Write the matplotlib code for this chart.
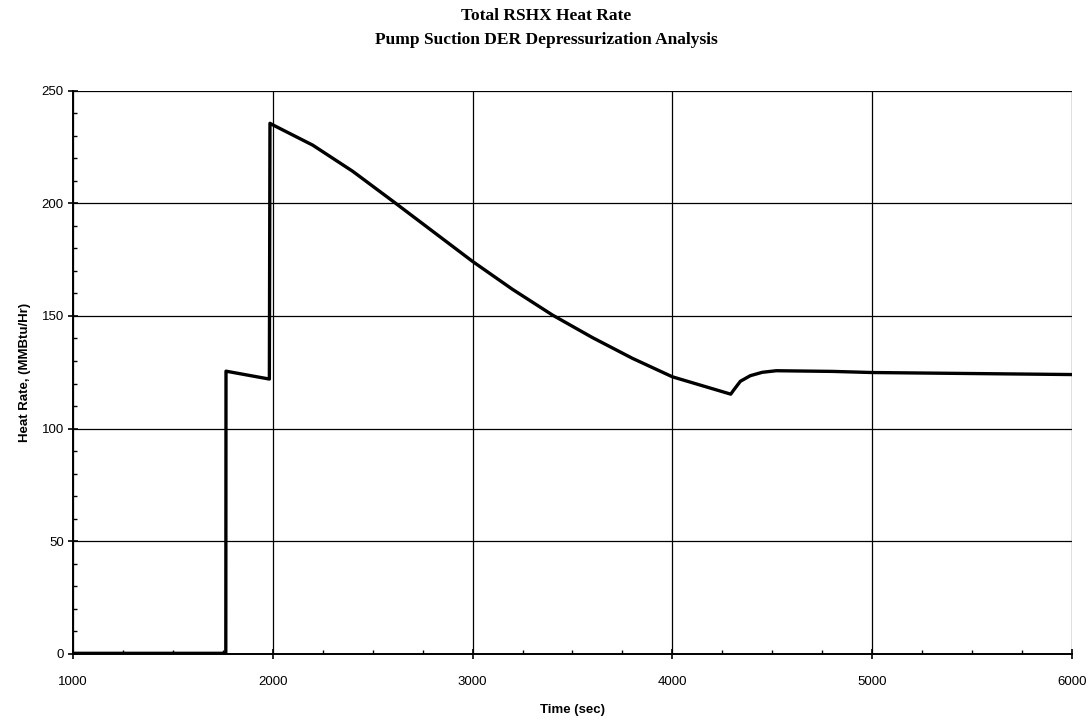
import matplotlib
matplotlib.use("Agg")
from matplotlib import pyplot as plt
from matplotlib.ticker import MultipleLocator

# RSHX heat rate vs time
time_sec = [1000, 1765, 1766, 1983, 1986, 2000, 2200, 2400, 2600, 2800,
            3000, 3200, 3400, 3600, 3800, 4000, 4292, 4310, 4340, 4390,
            4450, 4520, 4800, 5000, 6000]
heat_rate = [0.3, 0.3, 125.5, 122.0, 235.5, 234.8, 225.8, 214.2, 201.0, 187.6,
             174.2, 161.8, 150.4, 140.4, 131.2, 123.0, 115.3, 117.5, 121.0, 123.5,
             125.0, 125.7, 125.4, 124.9, 124.0]

title_lines = ["Total RSHX Heat Rate", "Pump Suction DER Depressurization Analysis"]
x_ticks = [1000, 2000, 3000, 4000, 5000, 6000]
y_ticks = [0, 50, 100, 150, 200, 250]

plt.rcParams['font.family'] = ['Liberation Sans', 'DejaVu Sans']

fig = plt.figure(figsize=(10.92, 7.22), dpi=100)
ax = fig.add_axes([0.0668, 0.0942, 0.9149, 0.7803])

ax.plot(time_sec, heat_rate, color='black', lw=2.4, solid_joinstyle='round')

ax.set_xlim(1000, 6000)
ax.set_ylim(0, 250)
ax.set_xticks(x_ticks)
ax.set_yticks(y_ticks)
ax.xaxis.set_minor_locator(MultipleLocator(250))
ax.yaxis.set_minor_locator(MultipleLocator(10))
ax.grid(True, which='major', color='black', lw=0.9)
ax.set_axisbelow(True)

for side in ['top', 'right']:
    ax.spines[side].set_visible(False)
for side in ['left', 'bottom']:
    ax.spines[side].set_linewidth(1.4)

ax.tick_params(which='major', direction='inout', length=7, width=1.2,
               labelsize=9.5, colors='black')
ax.tick_params(which='minor', direction='in', length=3, width=1.0)
ax.tick_params(axis='x', which='major', pad=12)
ax.tick_params(axis='y', which='major', pad=3)

ax.set_xlabel("Time (sec)", fontsize=9.5, fontweight='bold', labelpad=12)
ax.set_ylabel("Heat Rate, (MMBtu/Hr)", fontsize=9.5, fontweight='bold', labelpad=8)

fig.text(0.5, 0.978, title_lines[0], ha='center', va='center', fontsize=12.5,
         fontweight='bold', family='Liberation Serif')
fig.text(0.5, 0.944, title_lines[1], ha='center', va='center', fontsize=12.5,
         fontweight='bold', family='Liberation Serif')

fig.savefig("out.png", dpi=100, facecolor='white')
